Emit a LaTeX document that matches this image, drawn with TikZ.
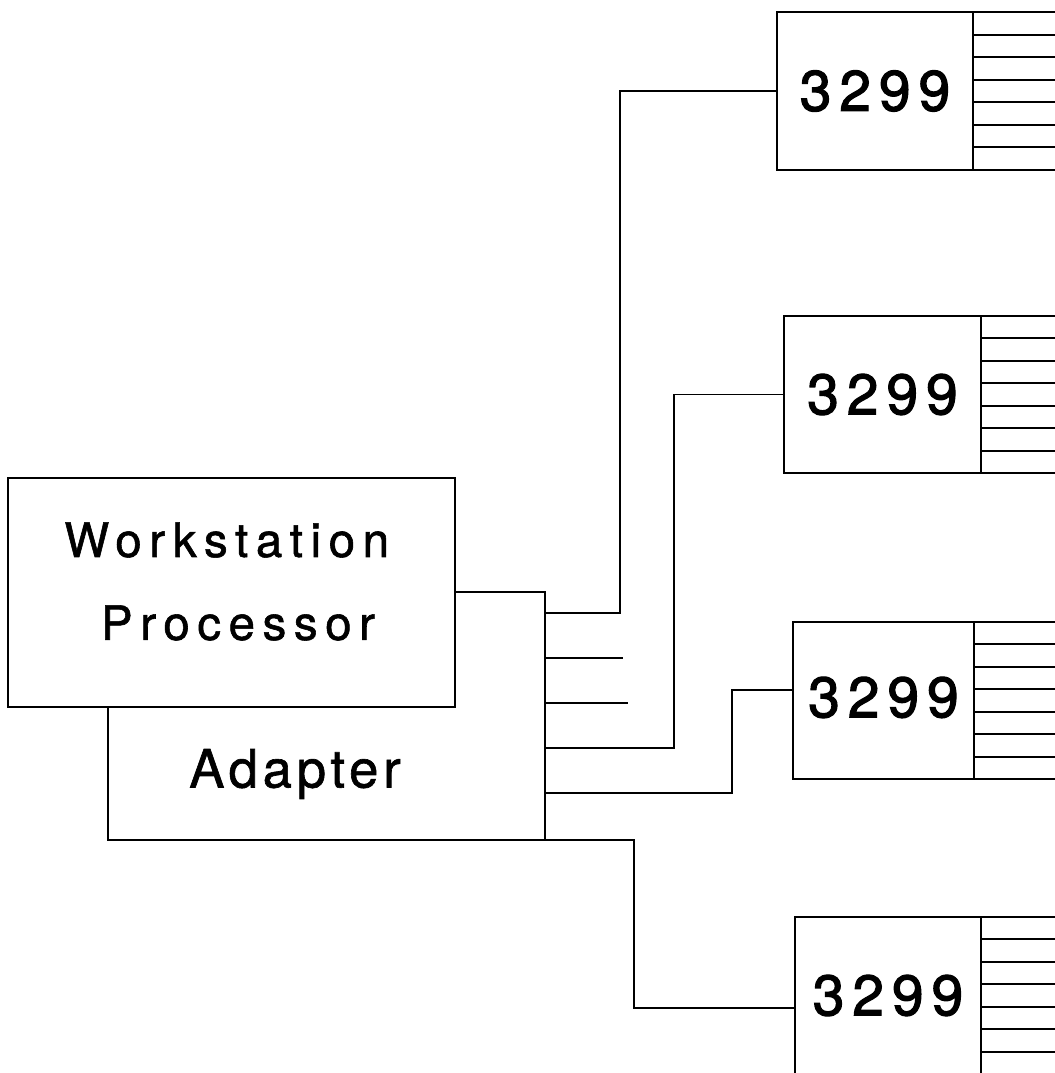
\documentclass[tikz,border=0pt]{standalone}
\usepackage{fontspec}
\setmainfont{TeX Gyre Heros}
\newfontfamily\wspfont[LetterSpace=16, FakeBold=1.2]{TeX Gyre Heros}
\newfontfamily\adfont[LetterSpace=9, FakeBold=1.2]{TeX Gyre Heros}
\newfontfamily\unitfont[LetterSpace=14, FakeBold=2]{TeX Gyre Heros}
\usetikzlibrary{calc}

\begin{document}
\begin{tikzpicture}[x=0.02cm, y=-0.02cm, line width=1.1pt,
		box/.style={rectangle, draw=black, fill=white, outer sep=0pt, inner sep=0pt},
		unit/.style={box, minimum height=3.14cm, font=\unitfont\fontsize{32.4}{36}\selectfont}]
				\useasboundingbox (0,0) rectangle (1055,1073);
				\coordinate (rim) at (1055,0);
				
				\node[box, minimum width=8.74cm, minimum height=4.96cm] (ad) at (326.5,716){};
				\node[box, minimum width=8.94cm, minimum height=4.58cm] (wsp) at (231.5,592.5){};
				\node[align=center, font=\wspfont\fontsize{27}{47.2}\selectfont] (wsptext) at (238,581.5){Workstation\hspace*{0.45cm}\\Processor};
				\node[font=\adfont\fontsize{30}{36}\selectfont] (adtext) at (295,774){Adapter};
				
				\node[unit, minimum width=3.92cm, minimum height=3.16cm] (u1) at (875,91){3299};
				\node[unit, minimum width=3.94cm] (u2) at (882.5,394.5){3299};
				\node[unit, minimum width=3.62cm] (u3) at (883.5,700.5){\raisebox{0.14cm}{3299}};
				\node[unit, minimum width=3.72cm] (u4) at (888,995.5){3299};
				
				\coordinate (p1) at (545,613);
				\coordinate (p2) at (545,658);
				\coordinate (p3) at (545,703);
				\coordinate (p4) at (545,748);
				\coordinate (p5) at (545,793);
				
				\coordinate (c1) at (620,300);
				\coordinate (c2) at (623,658);
				\coordinate (c3) at (628,703);
				\coordinate (c4) at (674,500);
				\coordinate (c5) at (732,690);
				\coordinate (c6) at (634,1008);
				
				\draw (p1) -| (c1) |- (u1.west);
				\draw (p2) -- (c2);
				\draw (p3) -- (c3);
				\draw (p4) -| (c4) |- (u2.west);
				\draw (p5) -| (c5) -- (c5 -| u3.west);
				\draw (ad.south east) -| (c6) -- (c6 -| u4.west);
				
				\foreach \u in {u1,u2,u3,u4}{
					\draw (\u.north east) -- (\u.north east -| rim);
					\draw (\u.south east) -- (\u.south east -| rim);
					\foreach \k in {1,...,6}{
						\path ($(\u.north east)!\k/7!(\u.south east)$) coordinate (s);
						\draw (s) -- (s -| rim);
					}
				}
\end{tikzpicture}
\end{document}
